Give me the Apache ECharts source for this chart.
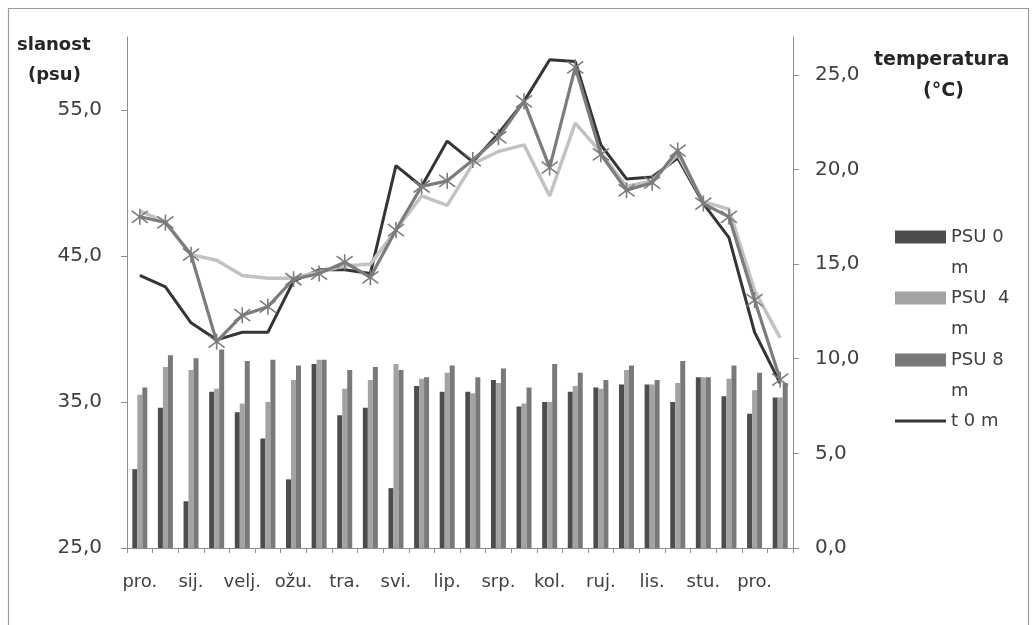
<!DOCTYPE html>
<html>
<head>
<meta charset="utf-8">
<script src="https://cdn.jsdelivr.net/npm/echarts@6/dist/echarts.min.js"></script>
<style>
html,body{margin:0;padding:0;background:#fff;}
#chart{width:1036px;height:625px;}
</style>
</head>
<body>
<div id="chart"></div>
<script>
const categories = ['pro. I','pro. II','sij. I','sij. II','velj. I','velj. II','ožu. I','ožu. II','tra. I','tra. II','svi. I','svi. II','lip. I','lip. II','srp. I','srp. II','kol. I','kol. II','ruj. I','ruj. II','lis. I','lis. II','stu. I','stu. II','pro. I ','pro. II '];
const monthLabels = ['pro.','sij.','velj.','ožu.','tra.','svi.','lip.','srp.','kol.','ruj.','lis.','stu.','pro.'];
const leftTicks = [25, 35, 45, 55];
const rightTicks = [0, 5, 10, 15, 20, 25];

const psu0 = [30.4, 34.6, 28.2, 35.7, 34.3, 32.5, 29.7, 37.6, 34.1, 34.6, 29.1, 36.1, 35.7, 35.7, 36.5, 34.7, 35.0, 35.7, 36.0, 36.2, 36.2, 35.0, 36.7, 35.4, 34.2, 35.3];
const psu4 = [35.5, 37.4, 37.2, 35.9, 34.9, 35.0, 36.5, 37.9, 35.9, 36.5, 37.6, 36.6, 37.0, 35.6, 36.3, 34.9, 35.0, 36.1, 35.9, 37.2, 36.2, 36.3, 36.7, 36.6, 35.8, 35.3];
const psu8 = [36.0, 38.2, 38.0, 38.6, 37.8, 37.9, 37.5, 37.9, 37.2, 37.4, 37.2, 36.7, 37.5, 36.7, 37.3, 36.0, 37.6, 37.0, 36.5, 37.5, 36.5, 37.8, 36.7, 37.5, 37.0, 36.3];

const t0 = [14.4, 13.8, 11.9, 11.0, 11.4, 11.4, 14.1, 14.7, 14.7, 14.5, 20.2, 19.1, 21.5, 20.4, 21.9, 23.6, 25.8, 25.7, 21.3, 19.5, 19.6, 20.6, 18.2, 16.4, 11.4, 8.7];
const t4 = [17.8, 17.25, 15.5, 15.2, 14.4, 14.25, 14.25, 14.6, 14.9, 15.0, 16.8, 18.6, 18.1, 20.3, 20.95, 21.3, 18.6, 22.45, 20.9, 19.1, 19.4, 20.8, 18.3, 17.9, 13.6, 11.1];
const t8 = [17.5, 17.2, 15.5, 10.9, 12.3, 12.75, 14.2, 14.5, 15.1, 14.3, 16.8, 19.1, 19.4, 20.5, 21.7, 23.6, 20.1, 25.4, 20.8, 18.9, 19.3, 21.0, 18.2, 17.5, 13.1, 8.9];

const FONT = '"DejaVu Sans", "Noto Sans", sans-serif';
const TXT = '#404040';
const AX = '#8c8c8c';
const fmt = v => v.toFixed(1).replace('.', ',');

const chart = echarts.init(document.getElementById('chart'), null, {renderer: 'canvas'});

function legendFor(item, top, twoLine, iconH) {
  return {
    show: true,
    data: [item],
    orient: 'vertical',
    left: 895,
    top: top,
    padding: 0,
    itemWidth: 51,
    itemHeight: iconH,
    itemGap: 0,
    selectedMode: false,
    formatter: n => twoLine ? ' \n' + n.replace(/ m$/, '') + '\nm' : n,
    textStyle: {fontFamily: FONT, fontSize: 18, color: TXT, lineHeight: 31}
  };
}

chart.setOption({
  animation: false,
  backgroundColor: '#fff',
  textStyle: {fontFamily: FONT},
  grid: {left: 127, right: 243, top: 37, bottom: 77, containLabel: false},
  legend: [
    legendFor({name: 'PSU 0 m', icon: 'rect'}, 237 - 46.5, true, 13),
    legendFor({name: 'PSU  4 m', icon: 'rect'}, 298 - 46.5, true, 13),
    legendFor({name: 'PSU 8 m', icon: 'rect'}, 360 - 46.5, true, 13),
    legendFor({name: 't 0 m', icon: 'rect'}, 421 - 15.5, false, 3)
  ],
  xAxis: {
    type: 'category',
    data: categories,
    boundaryGap: true,
    axisLine: {lineStyle: {color: AX, width: 1}},
    axisTick: {show: true, interval: 0, length: 5, lineStyle: {color: AX}},
    axisLabel: {
      interval: 0, margin: 25, color: TXT, fontSize: 18, fontFamily: FONT,
      formatter: (v, i) => (i % 2 === 0 ? monthLabels[i / 2] : '')
    },
    splitLine: {show: false}
  },
  yAxis: [
    {
      type: 'value', position: 'left', min: 25, max: 60, interval: 10,
      axisLine: {show: true, lineStyle: {color: AX}},
      axisTick: {show: true, length: 6, customValues: leftTicks, lineStyle: {color: AX}},
      axisLabel: {customValues: leftTicks, formatter: fmt, color: TXT, fontSize: 20, fontFamily: FONT, margin: 25},
      splitLine: {show: false}
    },
    {
      type: 'value', position: 'right', min: 0, max: 27, interval: 5,
      axisLine: {show: true, lineStyle: {color: AX}},
      axisTick: {show: true, length: 6, customValues: rightTicks, lineStyle: {color: AX}},
      axisLabel: {customValues: rightTicks, formatter: fmt, color: TXT, fontSize: 20, fontFamily: FONT, margin: 22},
      splitLine: {show: false}
    }
  ],
  series: [
    {name: 'PSU 0 m', type: 'bar', yAxisIndex: 0, data: psu0, barWidth: 5, barGap: '0%', itemStyle: {color: '#4d4d4d'}},
    {name: 'PSU  4 m', type: 'bar', yAxisIndex: 0, data: psu4, barWidth: 5, barGap: '0%', itemStyle: {color: '#a3a3a3'}},
    {name: 'PSU 8 m', type: 'bar', yAxisIndex: 0, data: psu8, barWidth: 5, barGap: '0%', itemStyle: {color: '#797979'}},
    {name: 't 0 m', type: 'line', yAxisIndex: 1, data: t0, symbol: 'none', lineStyle: {color: '#353535', width: 3}, itemStyle: {color: '#353535'}, z: 3},
    {name: 't 4 m', type: 'line', yAxisIndex: 1, data: t4, symbol: 'none', lineStyle: {color: '#c2c2c2', width: 3.5}, itemStyle: {color: '#c2c2c2'}, z: 4},
    {name: 't 8 m', type: 'line', yAxisIndex: 1, data: t8,
      symbol: 'path://M-6,-6L6,6M-6,6L6,-6M0,-8L0,8', symbolSize: 16, showSymbol: true,
      lineStyle: {color: '#7c7c7c', width: 3.2},
      itemStyle: {color: 'rgba(0,0,0,0)', borderColor: '#7c7c7c', borderWidth: 1.6}, z: 5}
  ],
  graphic: [
    {type: 'rect', shape: {x: 8.5, y: 8.5, width: 1020, height: 640}, style: {fill: 'none', stroke: '#9a9a9a', lineWidth: 1.2}, silent: true},
    {type: 'text', left: 17, top: 36, style: {text: 'slanost', font: 'bold 18px ' + FONT, fill: '#262626'}},
    {type: 'text', left: 28, top: 66, style: {text: '(psu)', font: 'bold 18px ' + FONT, fill: '#262626'}},
    {type: 'text', left: 874, top: 51, style: {text: 'temperatura', font: 'bold 19px ' + FONT, fill: '#262626'}},
    {type: 'text', left: 923, top: 82, style: {text: '(°C)', font: 'bold 19px ' + FONT, fill: '#262626'}}
  ]
});
</script>
</body>
</html>
